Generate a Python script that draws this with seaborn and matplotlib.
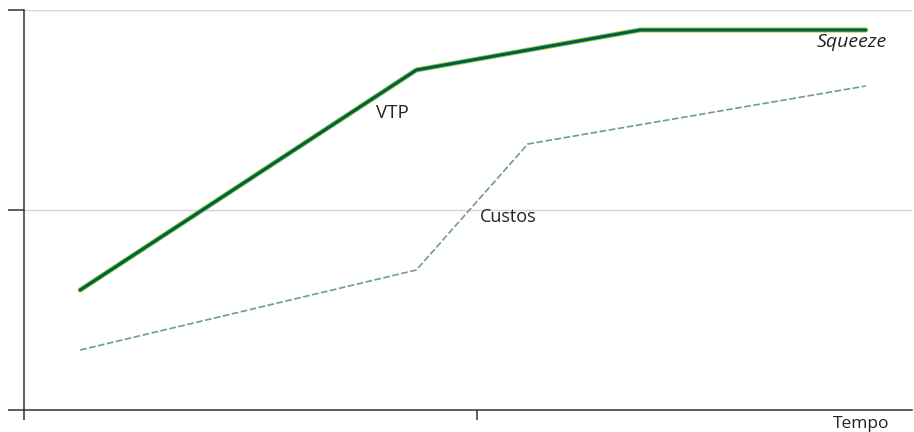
import pandas as pd
import seaborn as sns
import matplotlib.pyplot as plt
import matplotlib.patheffects as pe

# values (arbitrary units, time 0..10, value 0..10)
vtp_x = [0.62, 4.33, 6.80, 9.29]
vtp_y = [3.0, 8.5, 9.5, 9.5]
custos_x = [0.62, 4.33, 5.56, 9.29]
custos_y = [1.5, 3.5, 6.65, 8.1]

x_ticks = [0, 5]
y_ticks = [0, 5, 10]

vtp = pd.DataFrame({"tempo": vtp_x, "valor": vtp_y})
custos = pd.DataFrame({"tempo": custos_x, "valor": custos_y})

sns.set_style("white")
plt.rcParams["font.family"] = ["Open Sans", "DejaVu Sans"]

fig = plt.figure(figsize=(9.14, 4.32), dpi=100)
ax = fig.add_axes([24 / 914, 22 / 432, 888 / 914, 400 / 432])

sns.lineplot(data=custos, x="tempo", y="valor", ax=ax, color="#6f9f7c",
             linewidth=1.2, linestyle=(0, (4, 1.5)), sort=False)
sns.lineplot(data=vtp, x="tempo", y="valor", ax=ax, color="#005e46",
             linewidth=2.2, sort=False,
             path_effects=[pe.Stroke(linewidth=3.6, foreground="#8cc63e"), pe.Normal()])

ax.set_xlim(0, 9.8)
ax.set_ylim(0, 10)
ax.set_xticks(x_ticks)
ax.set_yticks(y_ticks)
ax.set_xticklabels([])
ax.set_yticklabels([])
ax.set_xlabel("")
ax.set_ylabel("")
ax.grid(axis="y", color="#d4d4d4", linewidth=1)
ax.set_axisbelow(True)

for s in ["top", "right"]:
    ax.spines[s].set_visible(False)
for s in ["left", "bottom"]:
    ax.spines[s].set_color("#333333")
    ax.spines[s].set_linewidth(1.1)
ax.tick_params(axis="y", direction="out", length=11.5, width=1.1, color="#333333", left=True)
ax.tick_params(axis="x", direction="out", length=7.5, width=1.1, color="#333333", bottom=True)

ax.text(4.06, 7.425, "VTP", fontsize=13.5, ha="center", va="center", color="#222222")
ax.text(5.34, 4.825, "Custos", fontsize=13, ha="center", va="center", color="#222222")
ax.text(9.13, 9.2, "Squeeze", fontsize=14, style="italic", ha="center", va="center",
        color="#222222")
fig.text(861 / 914, 1 - 424 / 432, "Tempo", fontsize=12.5, ha="center", va="center",
         color="#222222")

fig.savefig("out.png", dpi=100)
